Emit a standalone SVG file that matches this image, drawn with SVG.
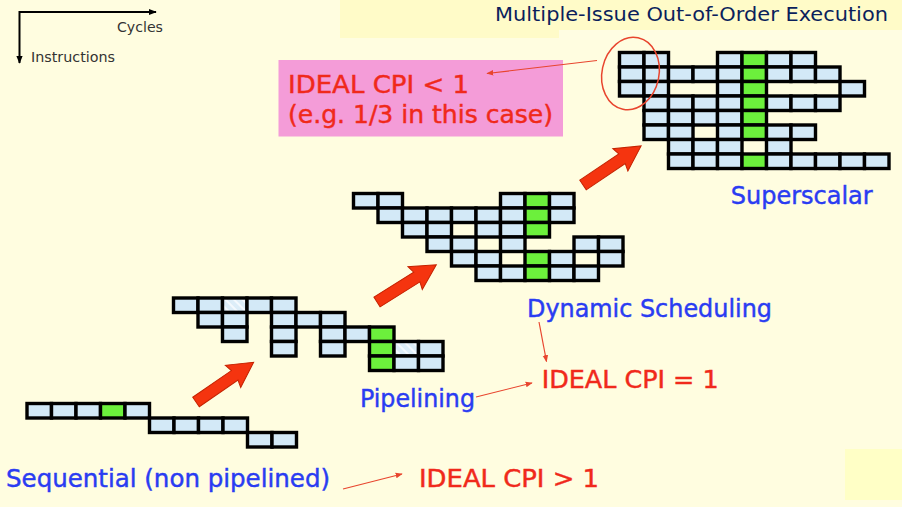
<svg xmlns="http://www.w3.org/2000/svg" xmlns:xlink="http://www.w3.org/1999/xlink" width="902" height="507" viewBox="0 0 902 507">
<style>
.t{font-family:"DejaVu Sans Condensed","DejaVu Sans",Verdana,sans-serif}
.blue{fill:#2A3CF2;stroke:#2A3CF2;stroke-width:0.4;font-size:24px}
.red{fill:#F0291B;stroke:#F0291B;stroke-width:0.4;font-size:24px}
.ax{fill:#333;font-size:14px}
.thin{stroke:#E8452E;stroke-width:1.2;fill:none}
.blk{fill:#F5340F;stroke:#C42200;stroke-width:1}
.cb{fill:#D3E9F7;stroke:#000;stroke-width:3.4}
.cg{fill:#6CF03C;stroke:#000;stroke-width:3.4}
.ch{fill:url(#hat);stroke:#000;stroke-width:3.4}
</style>
<defs>
<pattern id="hat" width="6" height="6" patternUnits="userSpaceOnUse" patternTransform="rotate(-45)">
<rect width="6" height="6" fill="#DCEDF8"/>
<rect width="2" height="6" fill="#F4F9FD"/>
</pattern>
<rect id="b" width="24.5" height="14.5" class="cb"/>
<rect id="g" width="24.5" height="14.5" class="cg"/>
<rect id="h" width="24.5" height="14.5" class="ch"/>
<polygon id="bigarrow" points="0,-5.8 47,-5.8 45,-13.5 70,0 45,13.5 47,5.8 0,5.8" class="blk"/>
<marker id="mr" viewBox="0 0 10 10" refX="9" refY="5" markerWidth="7" markerHeight="7" orient="auto" markerUnits="userSpaceOnUse">
<path d="M0,1 L10,5 L0,9 Z" fill="#E8452E"/>
</marker>
<marker id="mk" viewBox="0 0 10 10" refX="9" refY="5" markerWidth="8" markerHeight="8" orient="auto" markerUnits="userSpaceOnUse">
<path d="M0,1 L10,5 L0,9 Z" fill="#000"/>
</marker>
</defs>
<rect width="902" height="507" fill="#FFFDE0"/>
<rect x="340" y="0" width="562" height="38" fill="#FFFBC8"/>
<rect x="559" y="30" width="343" height="10" fill="#FFFDE2"/>
<rect x="845" y="449" width="57" height="51" fill="#FFFFC6"/>

<g id="axes">
<line x1="19.5" y1="12" x2="156" y2="12" stroke="#000" stroke-width="2" marker-end="url(#mk)"/>
<line x1="19.5" y1="11" x2="19.5" y2="63" stroke="#000" stroke-width="2" marker-end="url(#mk)"/>
<text class="t ax" x="117" y="31.5" textLength="46" lengthAdjust="spacingAndGlyphs">Cycles</text>
<text class="t ax" x="31" y="62" textLength="84" lengthAdjust="spacingAndGlyphs">Instructions</text>
</g>

<g id="title">
<text class="t" x="495" y="21" font-size="20" fill="#0B1F5C" textLength="393" lengthAdjust="spacingAndGlyphs">Multiple-Issue Out-of-Order Execution</text>
</g>

<g id="ideal-lt1">
<rect x="278.5" y="60" width="284.5" height="76.5" fill="#F49CD8"/>
<text class="t red" x="288" y="93" font-size="25" textLength="181" lengthAdjust="spacingAndGlyphs">IDEAL CPI &lt; 1</text>
<text class="t red" x="288" y="123" font-size="25" textLength="265" lengthAdjust="spacingAndGlyphs">(e.g. 1/3 in this case)</text>
</g>

<g id="sequential" transform="translate(27,403.5)">
<use xlink:href="#b" x="0" y="0"/><use xlink:href="#b" x="24.5" y="0"/><use xlink:href="#b" x="49" y="0"/><use xlink:href="#g" x="73.5" y="0"/><use xlink:href="#b" x="98" y="0"/>
<use xlink:href="#b" x="122.5" y="14.5"/><use xlink:href="#b" x="147" y="14.5"/><use xlink:href="#b" x="171.5" y="14.5"/><use xlink:href="#b" x="196" y="14.5"/>
<use xlink:href="#b" x="220.5" y="29"/><use xlink:href="#b" x="245" y="29"/>
</g>

<g id="pipelining" transform="translate(173.5,298)">
<use xlink:href="#b" x="0" y="0"/><use xlink:href="#b" x="24.5" y="0"/><use xlink:href="#h" x="49" y="0"/><use xlink:href="#b" x="73.5" y="0"/><use xlink:href="#b" x="98" y="0"/>
<use xlink:href="#b" x="24.5" y="14.5"/><use xlink:href="#b" x="49" y="14.5"/><use xlink:href="#b" x="98" y="14.5"/><use xlink:href="#b" x="122.5" y="14.5"/><use xlink:href="#b" x="147" y="14.5"/>
<use xlink:href="#b" x="49" y="29"/><use xlink:href="#b" x="98" y="29"/><use xlink:href="#b" x="147" y="29"/><use xlink:href="#b" x="171.5" y="29"/><use xlink:href="#g" x="196" y="29"/>
<use xlink:href="#b" x="98" y="43.5"/><use xlink:href="#b" x="147" y="43.5"/><use xlink:href="#g" x="196" y="43.5"/><use xlink:href="#h" x="220.5" y="43.5"/><use xlink:href="#b" x="245" y="43.5"/>
<use xlink:href="#g" x="196" y="58"/><use xlink:href="#b" x="220.5" y="58"/><use xlink:href="#b" x="245" y="58"/>
</g>

<g id="dynamic" transform="translate(353.5,193.5)">
<use xlink:href="#b" x="0" y="0"/><use xlink:href="#b" x="24.5" y="0"/><use xlink:href="#b" x="147" y="0"/><use xlink:href="#g" x="171.5" y="0"/><use xlink:href="#b" x="196" y="0"/>
<use xlink:href="#b" x="24.5" y="14.5"/><use xlink:href="#b" x="49" y="14.5"/><use xlink:href="#b" x="73.5" y="14.5"/><use xlink:href="#b" x="98" y="14.5"/><use xlink:href="#b" x="122.5" y="14.5"/><use xlink:href="#b" x="147" y="14.5"/><use xlink:href="#g" x="171.5" y="14.5"/><use xlink:href="#b" x="196" y="14.5"/>
<use xlink:href="#b" x="49" y="29"/><use xlink:href="#b" x="73.5" y="29"/><use xlink:href="#b" x="122.5" y="29"/><use xlink:href="#b" x="147" y="29"/><use xlink:href="#g" x="171.5" y="29"/>
<use xlink:href="#b" x="73.5" y="43.5"/><use xlink:href="#b" x="98" y="43.5"/><use xlink:href="#b" x="147" y="43.5"/><use xlink:href="#b" x="220.5" y="43.5"/><use xlink:href="#b" x="245" y="43.5"/>
<use xlink:href="#b" x="98" y="58"/><use xlink:href="#b" x="122.5" y="58"/><use xlink:href="#g" x="171.5" y="58"/><use xlink:href="#b" x="196" y="58"/><use xlink:href="#b" x="245" y="58"/>
<use xlink:href="#b" x="122.5" y="72.5"/><use xlink:href="#b" x="147" y="72.5"/><use xlink:href="#g" x="171.5" y="72.5"/><use xlink:href="#b" x="196" y="72.5"/><use xlink:href="#b" x="220.5" y="72.5"/>
</g>

<g id="superscalar" transform="translate(619.5,52.5)">
<use xlink:href="#b" x="0" y="0"/><use xlink:href="#b" x="24.5" y="0"/><use xlink:href="#b" x="98" y="0"/><use xlink:href="#g" x="122.5" y="0"/><use xlink:href="#b" x="147" y="0"/><use xlink:href="#b" x="171.5" y="0"/>
<use xlink:href="#b" x="0" y="14.5"/><use xlink:href="#b" x="24.5" y="14.5"/><use xlink:href="#b" x="49" y="14.5"/><use xlink:href="#b" x="73.5" y="14.5"/><use xlink:href="#b" x="98" y="14.5"/><use xlink:href="#g" x="122.5" y="14.5"/><use xlink:href="#b" x="147" y="14.5"/><use xlink:href="#b" x="171.5" y="14.5"/><use xlink:href="#b" x="196" y="14.5"/>
<use xlink:href="#b" x="0" y="29"/><use xlink:href="#b" x="24.5" y="29"/><use xlink:href="#b" x="98" y="29"/><use xlink:href="#g" x="122.5" y="29"/><use xlink:href="#b" x="220.5" y="29"/>
<use xlink:href="#b" x="24.5" y="43.5"/><use xlink:href="#b" x="49" y="43.5"/><use xlink:href="#b" x="73.5" y="43.5"/><use xlink:href="#b" x="98" y="43.5"/><use xlink:href="#g" x="122.5" y="43.5"/><use xlink:href="#b" x="147" y="43.5"/><use xlink:href="#b" x="171.5" y="43.5"/><use xlink:href="#b" x="196" y="43.5"/>
<use xlink:href="#b" x="24.5" y="58"/><use xlink:href="#b" x="49" y="58"/><use xlink:href="#b" x="73.5" y="58"/><use xlink:href="#b" x="98" y="58"/><use xlink:href="#g" x="122.5" y="58"/>
<use xlink:href="#b" x="24.5" y="72.5"/><use xlink:href="#b" x="49" y="72.5"/><use xlink:href="#b" x="98" y="72.5"/><use xlink:href="#g" x="122.5" y="72.5"/><use xlink:href="#b" x="147" y="72.5"/><use xlink:href="#b" x="171.5" y="72.5"/>
<use xlink:href="#b" x="49" y="87"/><use xlink:href="#b" x="73.5" y="87"/><use xlink:href="#b" x="98" y="87"/><use xlink:href="#b" x="147" y="87"/>
<use xlink:href="#b" x="49" y="101.5"/><use xlink:href="#b" x="73.5" y="101.5"/><use xlink:href="#b" x="98" y="101.5"/><use xlink:href="#g" x="122.5" y="101.5"/><use xlink:href="#b" x="147" y="101.5"/><use xlink:href="#b" x="171.5" y="101.5"/><use xlink:href="#b" x="196" y="101.5"/><use xlink:href="#b" x="220.5" y="101.5"/><use xlink:href="#b" x="245" y="101.5"/>
</g>

<g id="highlight-circle">
<ellipse cx="630.5" cy="73.5" rx="28.5" ry="36.5" transform="rotate(12 630.5 73.5)" fill="none" stroke="#E8452E" stroke-width="1.5"/>
</g>

<g id="labels">
<text class="t blue" x="730.7" y="204" textLength="142" lengthAdjust="spacingAndGlyphs">Superscalar</text>
<text class="t blue" x="527" y="317" textLength="245" lengthAdjust="spacingAndGlyphs">Dynamic Scheduling</text>
<text class="t blue" x="360" y="407" textLength="115" lengthAdjust="spacingAndGlyphs">Pipelining</text>
<text class="t red" x="541.7" y="388" textLength="177" lengthAdjust="spacingAndGlyphs">IDEAL CPI = 1</text>
<text class="t blue" x="6" y="487" textLength="324" lengthAdjust="spacingAndGlyphs">Sequential (non pipelined)</text>
<text class="t red" x="419" y="487" textLength="180" lengthAdjust="spacingAndGlyphs">IDEAL CPI &gt; 1</text>
</g>

<g id="connectors">
<use xlink:href="#bigarrow" transform="translate(196,402) rotate(-34.6)"/>
<use xlink:href="#bigarrow" transform="translate(377,302) rotate(-32.1)"/>
<use xlink:href="#bigarrow" transform="translate(583,185) rotate(-33.9)"/>
<line class="thin" x1="597" y1="60.5" x2="487" y2="73.5" marker-end="url(#mr)"/>
<line class="thin" x1="539" y1="322" x2="546.5" y2="361.5" marker-end="url(#mr)"/>
<line class="thin" x1="476" y1="397" x2="532" y2="383" marker-end="url(#mr)"/>
<line class="thin" x1="343" y1="489" x2="402" y2="474" marker-end="url(#mr)"/>
</g>
</svg>
